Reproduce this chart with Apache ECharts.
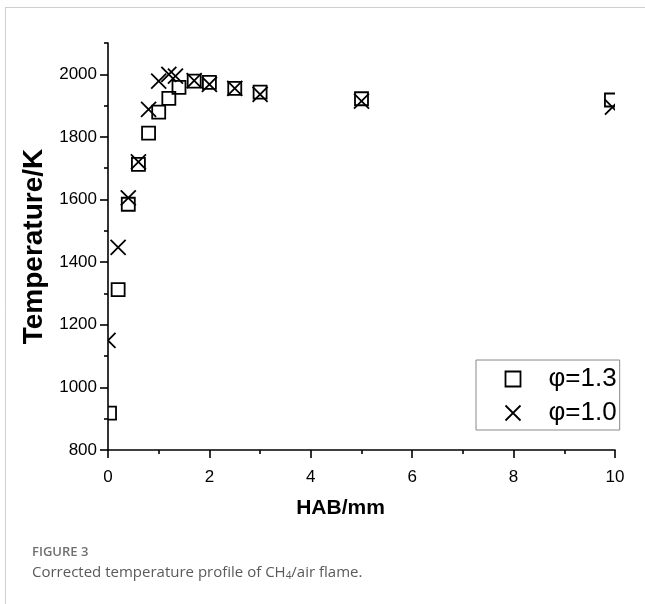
<!DOCTYPE html>
<html>
<head>
<meta charset="utf-8">
<script src="https://cdn.jsdelivr.net/npm/echarts@6/dist/echarts.min.js"></script>
<style>
html,body{margin:0;padding:0;background:#fff;}
#chart{width:645px;height:604px;}
</style>
</head>
<body>
<div id="chart"></div>
<script>
// phi = 1.3 (squares)
var hab13 = [0.03, 0.2, 0.4, 0.6, 0.8, 1.0, 1.2, 1.4, 1.7, 2.0, 2.5, 3.0, 5.0, 9.93];
var temp13 = [918, 1312, 1585, 1712, 1812, 1879, 1923, 1958, 1978, 1974, 1955, 1943, 1922, 1918];
// phi = 1.0 (crosses)
var hab10 = [0.0, 0.2, 0.4, 0.6, 0.8, 1.0, 1.2, 1.33, 1.7, 2.0, 2.5, 3.0, 5.0, 9.95];
var temp10 = [1150, 1447, 1605, 1720, 1888, 1978, 2000, 1994, 1980, 1968, 1955, 1936, 1914, 1895];

var seriesNames = ['\u03c6=1.3', '\u03c6=1.0'];
var yMajorTicks = [800, 1000, 1200, 1400, 1600, 1800, 2000];
var yMinorTicks = [900, 1100, 1300, 1500, 1700, 1900, 2100];
var xLabel = 'HAB/mm';
var yLabel = 'Temperature/K';

function pairs(xs, ys) { return xs.map(function (x, i) { return [x, ys[i]]; }); }

var FONT = "'Liberation Sans', Arial, sans-serif";
var LW = 1.8;
var chart = echarts.init(document.getElementById('chart'), null, {renderer: 'canvas'});
var crossPath = 'path://M0,0L10,10M10,0L0,10';
var markStyle = {color: 'none', borderColor: '#000', borderWidth: LW};

function renderSquare(params, api) {
  var p = api.coord([api.value(0), api.value(1)]);
  var h = 6.5;
  return {type: 'rect', shape: {x: p[0] - h, y: p[1] - h, width: 2 * h, height: 2 * h},
    style: {fill: null, stroke: '#000', lineWidth: LW}};
}
function renderCross(params, api) {
  var p = api.coord([api.value(0), api.value(1)]);
  var h = 7.5;
  return {type: 'group', children: [
    {type: 'line', shape: {x1: p[0] - h, y1: p[1] - h, x2: p[0] + h, y2: p[1] + h}, style: {stroke: '#000', lineWidth: LW}},
    {type: 'line', shape: {x1: p[0] - h, y1: p[1] + h, x2: p[0] + h, y2: p[1] - h}, style: {stroke: '#000', lineWidth: LW}}
  ]};
}

chart.setOption({
  animation: false,
  backgroundColor: '#fff',
  grid: {left: 108, right: 30, top: 43, bottom: 154, containLabel: false},
  xAxis: [{
    type: 'value', min: 0, max: 10, interval: 2,
    name: xLabel, nameLocation: 'middle', nameGap: 48,
    nameTextStyle: {fontFamily: FONT, fontWeight: 'bold', fontSize: 21, color: '#000', padding: [0, 42, 0, 0]},
    axisLine: {show: true, onZero: false, lineStyle: {color: '#000', width: 1.6}},
    axisTick: {show: true, inside: false, length: 8, lineStyle: {color: '#000', width: 1.6}},
    minorTick: {show: true, splitNumber: 2, length: 4, lineStyle: {color: '#000', width: 1.6}},
    axisLabel: {fontFamily: FONT, fontSize: 17, color: '#000', margin: 19, formatter: function (v) { return String(v); }},
    splitLine: {show: false}, minorSplitLine: {show: false}
  }],
  yAxis: [{
    type: 'value', min: 800, max: 2100,
    name: yLabel, nameLocation: 'middle', nameGap: 50, nameRotate: 90,
    nameTextStyle: {fontFamily: FONT, fontWeight: 'bold', fontSize: 28, color: '#000'},
    axisLine: {show: true, onZero: false, lineStyle: {color: '#000', width: 1.6}},
    axisTick: {show: true, inside: false, length: 8, customValues: yMajorTicks, lineStyle: {color: '#000', width: 1.6}},
    axisLabel: {fontFamily: FONT, fontSize: 17, color: '#000', margin: 11, customValues: yMajorTicks, formatter: function (v) { return String(v); }},
    splitLine: {show: false}
  }, {
    type: 'value', min: 800, max: 2100, position: 'left', offset: 0,
    axisLine: {show: false},
    axisTick: {show: true, inside: false, length: 4, customValues: yMinorTicks, lineStyle: {color: '#000', width: 1.6}},
    axisLabel: {show: false},
    splitLine: {show: false}
  }],
  legend: {
    left: 476, top: 360, orient: 'vertical',
    data: [
      {name: seriesNames[0], icon: 'rect', itemStyle: markStyle},
      {name: seriesNames[1], icon: crossPath, itemStyle: markStyle}
    ],
    itemWidth: 15, itemHeight: 15, itemGap: 8,
    padding: [6, 3, 4, 27],
    borderColor: '#888', borderWidth: 1,
    textStyle: {fontFamily: FONT, fontSize: 26, color: '#000', padding: [0, 0, 0, 23]}
  },
  series: [{
    name: seriesNames[0], type: 'custom', data: pairs(hab13, temp13),
    renderItem: renderSquare, clip: true,
    encode: {x: 0, y: 1},
    itemStyle: markStyle
  }, {
    name: seriesNames[1], type: 'custom', data: pairs(hab10, temp10),
    renderItem: renderCross, clip: true,
    encode: {x: 0, y: 1},
    itemStyle: markStyle
  }],
  graphic: [
    {type: 'line', shape: {x1: 5, y1: 7.5, x2: 645, y2: 7.5}, style: {stroke: '#cfcfcf', lineWidth: 1}, silent: true},
    {type: 'line', shape: {x1: 5.5, y1: 7, x2: 5.5, y2: 604}, style: {stroke: '#cfcfcf', lineWidth: 1}, silent: true},
    {type: 'text', left: 32, top: 546, style: {text: 'FIGURE 3', fontFamily: 'Open Sans, sans-serif', fontWeight: 600, fontSize: 13, fill: '#707070'}, silent: true},
    {type: 'text', left: 32, top: 565, style: {
      text: 'Corrected temperature profile of CH{sub|4}/air flame.',
      fontFamily: 'Open Sans, sans-serif', fontSize: 15, fill: '#5a5a5a',
      rich: {sub: {fontFamily: 'Open Sans, sans-serif', fontSize: 10, fill: '#5a5a5a', verticalAlign: 'bottom', padding: [8, 0, 0, 0]}}
    }, silent: true}
  ]
});
</script>
</body>
</html>
